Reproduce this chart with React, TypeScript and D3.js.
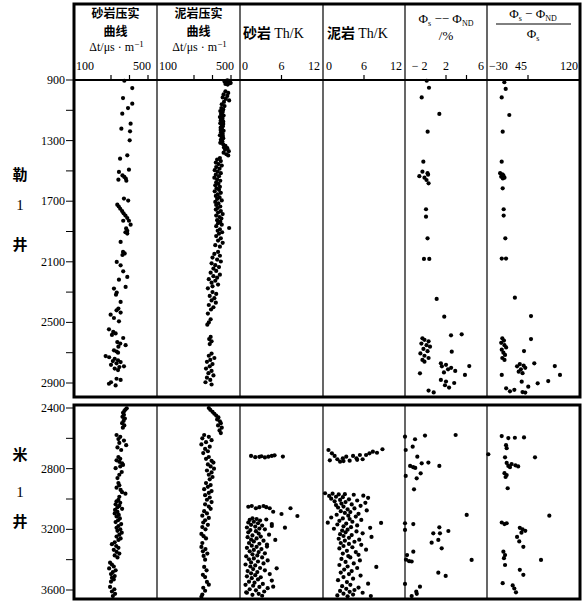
import React from "react";
import * as d3 from "d3";

// ---------- data: [depth (m), value] ----------
const le1SandDt: [number, number][] = [
  [905,372],[953,415],[1019,365],[1056,415],[1085,392],[1122,361],[1188,406],[1221,356],[1239,403],[1298,401],
  [1397,388],[1419,349],[1492,397],[1507,343],[1530,362],[1540,372],[1550,380],[1558,340],[1565,383],[1683,370],
  [1696,393],[1723,334],[1735,342],[1750,350],[1765,360],[1780,368],[1795,378],[1811,388],[1829,397],[1829,366],
  [1855,406],[1880,382],[1895,388],[1905,378],[1914,388],[1969,352],[2035,365],[2045,374],[2055,362],[2101,331],
  [2123,352],[2163,366],[2200,388],[2218,343],[2266,379],[2277,316],[2303,331],[2317,327],[2365,352],[2409,340],
  [2420,330],[2435,352],[2449,298],[2471,316],[2493,343],[2546,289],[2563,312],[2573,325],[2583,305],[2603,366],
  [2630,334],[2640,350],[2650,379],[2660,340],[2684,316],[2692,330],[2700,338],[2722,271],[2730,290],[2740,320],
  [2750,338],[2755,310],[2762,352],[2770,330],[2780,300],[2790,370],[2795,345],[2805,320],[2815,338],[2872,330],
  [2880,352],[2895,300],[2905,289],[2916,325]
];

const le1MudDt: [number, number][] = [
  [902,480],[905,490],[908,472],[912,485],[915,495],[918,476],[922,488],[926,470],[930,482],[910,465],[920,498],
  [975,470],[985,485],[995,460],[1005,480],[1015,455],[1025,472],[1035,490],[1045,462],[1060,450],[1072,465],
  [1085,448],[1095,458],[1105,442],[1115,452],[1125,446],[1135,460],[1145,440],[1155,454],[1165,445],[1175,458],
  [1185,442],[1195,450],[1205,456],[1215,444],[1225,452],[1235,460],[1245,446],[1255,455],[1265,440],[1275,450],
  [1285,458],[1295,445],[1305,453],[1315,442],[1325,458],[1110,455],[1150,448],[1190,458],[1230,444],[1270,456],[1310,448],
  [1335,470],[1345,462],[1350,480],[1360,468],[1370,488],[1380,460],[1390,475],[1398,485],
  [1415,440],[1425,425],[1435,445],[1445,418],[1455,432],[1465,450],[1475,420],[1485,438],[1495,412],[1505,428],
  [1515,445],[1525,418],[1535,435],[1545,410],[1555,425],[1565,442],[1575,420],[1585,432],[1595,415],[1605,440],
  [1615,422],[1625,435],[1635,412],[1645,445],[1655,428],[1665,418],[1675,438],[1685,425],[1695,450],[1705,415],
  [1715,432],[1725,420],[1735,442],[1745,428],[1755,418],[1765,445],[1775,430],[1785,455],[1795,420],[1805,438],
  [1815,448],[1825,425],[1835,442],[1845,430],[1855,450],[1865,420],[1877,490],[1885,440],[1895,428],[1905,452],
  [1915,435],[1930,420],[1945,445],[1960,430],[1975,455],[1990,415],[2000,440],
  [2035,430],[2048,410],[2060,440],[2072,400],[2085,425],[2098,445],[2110,395],[2122,415],[2135,435],[2145,405],
  [2160,420],[2172,390],[2185,440],[2195,405],[2205,425],[2215,380],[2225,415],[2238,395],[2250,430],[2262,400],
  [2275,375],[2300,400],[2312,420],[2325,385],[2340,410],[2355,395],[2370,418],[2385,380],[2400,405],[2415,392],
  [2442,375],[2480,390],[2500,380],[2515,372],[2596,390],[2610,382],[2625,395],[2643,385],
  [2706,395],[2720,380],[2735,410],[2748,388],[2760,370],[2775,400],[2790,385],[2805,365],[2820,395],[2835,378],
  [2850,405],[2865,370],[2880,388],[2895,362],[2910,395]
];

const le1PhiDiff: [number, number][] = [
  [905,0.12],[951,0.34],[1015,-0.37],[1124,1.35],[1241,0.21],[1439,-0.21],[1505,-0.3],[1515,0.2],[1525,0.25],
  [1535,-0.6],[1545,-0.1],[1560,0.1],[1582,0.3],[1753,0.05],[1802,0.05],[1945,0.2],[2081,-0.15],[2081,0.37],
  [2345,1.09],[2462,1.83],[2579,3.53],[2585,2.49],[2605,-0.3],[2615,-0.1],[2625,0.3],[2640,-0.4],[2650,0.1],
  [2660,0.44],[2675,-0.2],[2690,0.2],[2693,2.56],[2705,-0.5],[2720,-0.1],[2735,0.3],[2748,-0.3],[2759,-0.1],
  [2770,1.5],[2780,2.0],[2790,1.6],[2800,2.5],[2788,4.27],[2810,2.2],[2820,2.9],[2830,1.8],[2836,-0.54],
  [2847,3.85],[2880,1.5],[2890,2.0],[2900,2.8],[2915,1.9],[2930,2.3],[2950,0.3],[2962,0.8]
];

const le1PhiRatio: [number, number][] = [
  [915,1.7],[959,4.2],[1015,-3.1],[1131,10.8],[1241,-1.3],[1439,-3.1],[1515,-6],[1522,-2],[1530,0],[1538,-4],
  [1545,2],[1550,-1],[1615,-1.3],[1753,0.5],[1795,0.5],[1945,3.5],[2079,-3],[2079,4.8],[2337,21],[2458,50.5],
  [2605,-2],[2610,50.5],[2620,1],[2635,-4],[2650,2],[2665,5],[2680,-3],[2689,37.7],[2700,0],[2715,3],[2735,-2],
  [2748,2],[2770,56.5],[2775,30],[2785,37],[2788,94],[2790,25],[2800,40],[2810,32],[2825,28],[2835,35],
  [2847,-3],[2847,103.5],[2887,82],[2891,33.5],[2902,62.7],[2924,45.5],[2935,5],[2945,20],[2955,12],[2960,35],
  [2963,40]
];

const mi1SandDt: [number, number][] = [
  [2402,385],[2410,378],[2420,372],[2432,365],[2445,370],[2458,362],[2470,375],[2485,368],[2500,360],[2515,372],
  [2530,364],[2578,330],[2590,350],[2605,340],[2615,370],[2630,345],[2645,382],[2660,335],[2677,355],[2723,340],
  [2735,350],[2745,330],[2755,345],[2765,360],[2775,365],[2785,350],[2797,325],[2822,358],[2840,345],[2862,335],
  [2895,340],[2910,345],[2925,330],[2940,352],[2955,360],[2965,378],[2985,345],[3006,340],[3015,330],[3025,350],
  [3035,325],[3045,345],[3055,335],[3065,360],[3072,322],[3085,335],[3095,320],[3105,342],[3115,330],[3128,348],
  [3140,338],[3152,325],[3165,355],[3178,340],[3190,330],[3200,350],[3210,335],[3222,358],[3235,345],[3248,330],
  [3260,352],[3270,340],[3285,320],[3298,305],[3310,328],[3322,340],[3335,315],[3348,330],[3360,345],[3372,320],
  [3385,335],[3420,295],[3432,305],[3445,315],[3458,290],[3470,325],[3482,310],[3495,300],[3508,320],[3520,305],
  [3530,315],[3545,300],[3580,295],[3595,318],[3610,305],[3625,322],[3640,310]
];

const mi1MudDt: [number, number][] = [
  [2400,380],[2412,388],[2425,400],[2438,410],[2450,420],[2462,432],[2475,425],[2488,440],[2500,445],[2515,430],
  [2530,450],[2548,438],[2565,445],[2578,355],[2590,380],[2600,345],[2612,395],[2625,365],[2640,340],[2655,385],
  [2670,360],[2685,375],[2697,350],[2723,380],[2735,365],[2748,395],[2760,405],[2772,375],[2785,390],[2800,408],
  [2812,370],[2825,395],[2840,380],[2855,400],[2870,385],[2895,365],[2908,390],[2920,375],[2935,355],[2948,395],
  [2960,380],[2975,360],[2990,385],[3005,370],[3020,395],[3035,360],[3050,380],[3065,390],[3080,355],[3095,370],
  [3110,345],[3125,380],[3140,360],[3155,350],[3170,375],[3185,345],[3200,362],[3230,340],[3245,352],[3260,365],
  [3290,345],[3316,340],[3330,362],[3345,348],[3360,372],[3375,352],[3400,360],[3448,355],[3470,368],[3500,348],
  [3515,360],[3547,370],[3565,380],[3585,350],[3605,360],[3630,345],[3645,340]
];

const mi1SandThK: [number, number][] = [
  [2716,1.6],[2724,2.2],[2722,2.8],[2718,3.1],[2726,3.6],[2721,4.1],[2716,4.6],[2712,5.0],[2720,6.2],
  [3051,1.2],[3046,1.7],[3061,2.3],[3054,2.8],[3046,3.4],[3054,3.8],[3061,4.3],[3084,4.8],[3099,6.0],[3061,7.3],
  [3112,8.3],[3189,6.5],[3270,5.1],[3178,4.6],[3314,3.9],[3457,5.3],[3578,4.8],
  [3127,1.8],[3132,2.4],[3138,1.4],[3142,2.9],[3135,3.8],[3150,2.0],[3155,1.2],[3160,2.6],[3165,4.6],[3170,1.6],
  [3175,3.2],[3182,2.2],[3188,1.0],[3195,2.8],[3200,3.6],[3205,1.5],[3212,2.3],[3220,1.2],[3228,2.7],[3235,4.2],
  [3240,1.8],[3248,3.0],[3252,1.1],[3260,2.4],[3268,1.6],[3275,3.4],[3280,2.0],[3290,1.3],[3295,2.8],[3300,3.9],
  [3308,1.7],[3315,2.4],[3322,1.0],[3330,3.1],[3336,2.0],[3345,1.4],[3350,2.7],[3358,3.6],[3365,1.8],[3372,2.5],
  [3378,0.9],[3385,3.2],[3392,2.0],[3398,1.3],[3405,4.0],[3412,2.6],[3418,1.6],[3425,3.4],[3432,0.8],[3438,2.2],
  [3445,1.5],[3455,2.9],[3462,1.9],[3470,3.6],[3475,1.1],[3482,2.5],[3490,1.6],[3495,4.3],[3502,2.2],[3510,1.0],
  [3516,3.0],[3522,1.7],[3530,2.6],[3538,4.6],[3545,1.3],[3552,2.1],[3560,3.3],[3566,0.8],[3572,1.9],[3580,2.8],
  [3588,4.0],[3595,1.4],[3602,2.3],[3610,3.5],[3618,1.0],[3625,2.7],[3632,1.8],[3638,3.2],[3615,0.9]
];

const mi1MudThK: [number, number][] = [
  [2677,0.8],[2699,1.3],[2716,1.7],[2738,2.1],[2754,2.5],[2732,2.9],[2721,3.4],[2747,3.9],[2716,4.4],[2732,4.9],
  [2710,5.4],[2738,5.8],[2710,6.3],[2699,6.8],[2688,7.3],[2695,7.9],[2672,8.7],[2745,1.0],[2750,3.0],[2742,5.0],
  [2962,0.3],[2965,1.4],[2970,2.3],[2968,3.2],[2972,4.5],[2978,5.9],[2980,0.9],[2985,1.9],[2988,2.9],[2992,6.6],
  [2998,1.2],[3002,3.8],[3006,2.5],[3010,5.0],[3015,1.7],[3020,3.3],[3025,6.2],[3030,2.7],[3036,4.2],[3040,1.9],
  [3045,5.5],[3050,3.0],[3056,2.2],[3062,4.6],[3068,3.6],[3075,6.4],[3080,2.6],[3086,4.0],[3092,3.2],[3098,5.2],
  [3104,2.0],[3110,3.7],[3116,4.8],[3122,1.2],[3128,2.9],[3132,3.9],[3138,5.6],[3144,2.4],[3150,4.3],[3156,0.7],
  [3158,8.5],[3162,3.4],[3168,2.1],[3174,5.0],[3180,3.0],[3186,4.1],[3190,6.9],[3196,1.6],[3202,3.6],[3208,2.8],
  [3214,4.9],[3220,3.3],[3226,5.8],[3232,2.5],[3238,4.2],[3244,3.0],[3250,7.1],[3256,3.8],[3262,2.3],[3268,5.3],
  [3275,3.2],[3282,4.6],[3290,2.6],[3296,3.8],[3302,5.6],[3310,3.0],[3318,4.3],[3326,2.4],[3334,6.3],[3342,3.5],
  [3350,4.8],[3360,2.9],[3368,5.2],[3376,3.7],[3385,4.0],[3395,2.7],[3405,5.4],[3415,3.3],[3425,4.5],[3435,2.4],
  [3445,3.6],[3448,7.8],[3455,5.0],[3465,3.1],[3475,4.2],[3485,2.6],[3495,3.8],[3505,5.5],[3515,3.0],[3525,4.4],
  [3535,2.2],[3548,3.5],[3558,6.6],[3566,4.0],[3575,2.8],[3584,5.2],[3592,3.4],[3600,4.6],[3606,2.5],[3612,3.9],
  [3618,5.8],[3624,3.0],[3630,4.4],[3636,2.1],[3640,7.0],[3642,3.6]
];

const mi1PhiDiff: [number, number][] = [
  [2589,-2.0],[2606,-1.02],[2582,-0.05],[2578,2.94],[2655,-1.25],[2677,-1.93],[2721,-0.8],[2782,-1.5],[2790,-1.2],
  [2795,-1.0],[2765,-0.37],[2760,0.28],[2782,1.35],[2831,-0.47],[2848,-1.93],[2864,-0.86],[2936,-1.12],[3105,4.02],
  [3160,-2.0],[3165,-1.19],[3204,-2.0],[3187,1.35],[3211,2.23],[3226,0.76],[3226,1.41],[3270,1.25],[3288,0.6],
  [3325,1.58],[3347,-1.19],[3370,-1.8],[3400,-1.9],[3410,-1.6],[3412,-1.35],[3402,4.5],[3486,1.25],[3507,1.97],
  [3560,-2.0],[3578,-0.54],[3611,-0.9],[3625,-0.85],[3640,-1.35]
];

const mi1PhiRatio: [number, number][] = [
  [2585,-3.1],[2598,9],[2596,21],[2594,37.7],[2645,4.8],[2665,6],[2705,-27.6],[2725,3],[2725,57.8],[2762,6],
  [2770,15],[2778,22],[2785,27],[2790,12],[2782,9],[2830,2],[2842,6],[2855,4],[2929,7.8],[3110,84],[3155,-3],
  [3160,6],[3165,2],[3190,30],[3200,35],[3210,40],[3222,33],[3250,25],[3280,29],[3315,36.5],[3347,0],[3370,3],
  [3390,1],[3435,3],[3402,68.8],[3467,30],[3500,36.5],[3555,-1.3],[3570,17],[3590,20],[3615,23]
];

const topDepthTicks = [900, 1100, 1300, 1500, 1700, 1900, 2100, 2300, 2500, 2700, 2900];
const topDepthLabels = [900, 1300, 1700, 2100, 2500, 2900];
const botDepthTicks = [2400, 2600, 2800, 3000, 3200, 3400, 3600];
const botDepthLabels = [2400, 2800, 3200, 3600];

// ---------- layout ----------
const W = 586, H = 603;
const COLS = [74, 157, 240, 323, 405, 487, 580];
const TOP_Y0 = 4, AXIS_Y = 80, TOP_Y1 = 397, BOT_Y0 = 405, BOT_Y1 = 599;

const yTop = d3.scaleLinear().domain([900, 2900]).range([80, 383]);
const yBot = d3.scaleLinear().domain([2400, 3600]).range([408, 590]);

const dt1 = d3.scaleLinear().domain([100, 500]).range([COLS[0], COLS[0] + 74]);
const dt2 = d3.scaleLinear().domain([100, 500]).range([COLS[1], COLS[1] + 74]);
const thk1 = d3.scaleLinear().domain([0, 12]).range([COLS[2], COLS[3]]);
const thk2 = d3.scaleLinear().domain([0, 12]).range([COLS[3], COLS[4]]);
const pd = d3.scaleLinear().domain([-2, 6]).range([COLS[4], COLS[5]]);
const pr = d3.scaleLinear().domain([-30, 120]).range([COLS[5], 569]);

const SERIF = "'Liberation Serif', 'DejaVu Serif', serif";
const CJK = "'Noto Sans CJK SC', sans-serif";

function Dots({ data, x, y }: { data: [number, number][]; x: d3.ScaleLinear<number, number>; y: d3.ScaleLinear<number, number> }) {
  return (
    <g>
      {data.map(([d, v], i) => (
        <circle key={i} cx={x(v)} cy={y(d)} r={2.1} fill="#000" />
      ))}
    </g>
  );
}

export default function App() {
  const axisTicks = [
    dt1(300), dt1(400), dt1(500), dt2(300), dt2(400), dt2(500),
    thk1(6), thk2(6), pd(2), pd(4), pr(45),
  ];
  return (
    <svg width={W} height={H} style={{ position: "absolute", left: 0, top: 0, background: "#fff" }}>
      <rect x={0} y={0} width={W} height={H} fill="#fff" />
      {/* column dividers */}
      {COLS.slice(1, 6).map((x, i) => (
        <g key={i}>
          <line x1={x} x2={x} y1={TOP_Y0} y2={TOP_Y1} stroke="#000" strokeWidth={1.2} />
          <line x1={x} x2={x} y1={BOT_Y0} y2={BOT_Y1} stroke="#000" strokeWidth={1.2} />
        </g>
      ))}
      {/* panel borders */}
      <rect x={COLS[0]} y={TOP_Y0} width={COLS[6] - COLS[0]} height={TOP_Y1 - TOP_Y0} fill="none" stroke="#000" strokeWidth={3} />
      <rect x={COLS[0]} y={BOT_Y0} width={COLS[6] - COLS[0]} height={BOT_Y1 - BOT_Y0} fill="none" stroke="#000" strokeWidth={3} />
      {/* header axis line */}
      <line x1={COLS[0]} x2={COLS[6]} y1={AXIS_Y} y2={AXIS_Y} stroke="#000" strokeWidth={1.8} />
      {axisTicks.map((x, i) => (
        <line key={i} x1={x} x2={x} y1={AXIS_Y} y2={AXIS_Y - 5} stroke="#000" strokeWidth={1.2} />
      ))}

      {/* header texts */}
      <g fontFamily={CJK} fontWeight={700} fontSize={12} textAnchor="middle">
        <text x={(COLS[0] + COLS[1]) / 2} y={18}>砂岩压实</text>
        <text x={(COLS[0] + COLS[1]) / 2} y={36}>曲线</text>
        <text x={(COLS[1] + COLS[2]) / 2} y={18}>泥岩压实</text>
        <text x={(COLS[1] + COLS[2]) / 2} y={36}>曲线</text>
      </g>
      <g fontFamily={SERIF} fontSize={12} textAnchor="middle">
        <text x={(COLS[0] + COLS[1]) / 2 + 1} y={51}>Δt/μs · m<tspan dy={-4} fontSize={9}>−1</tspan></text>
        <text x={(COLS[1] + COLS[2]) / 2 + 1} y={51}>Δt/μs · m<tspan dy={-4} fontSize={9}>−1</tspan></text>
      </g>
      <g fontSize={14}>
        <text x={COLS[2] + 3} y={38}><tspan fontFamily={CJK} fontWeight={700}>砂岩 </tspan><tspan fontFamily={SERIF}>Th/K</tspan></text>
        <text x={COLS[3] + 4} y={38}><tspan fontFamily={CJK} fontWeight={700}>泥岩 </tspan><tspan fontFamily={SERIF}>Th/K</tspan></text>
      </g>
      <g fontFamily={SERIF} fontSize={13} textAnchor="middle">
        <text x={(COLS[4] + COLS[5]) / 2} y={23}>Φ<tspan dy={3} fontSize={8}>s</tspan><tspan dy={-3}> −− Φ</tspan><tspan dy={3} fontSize={8}>ND</tspan></text>
        <text x={(COLS[4] + COLS[5]) / 2} y={40}>/%</text>
        <text x={533} y={18}>Φ<tspan dy={3} fontSize={8}>s</tspan><tspan dy={-3}> − Φ</tspan><tspan dy={3} fontSize={8}>ND</tspan></text>
        <text x={533} y={38}>Φ<tspan dy={3} fontSize={8}>s</tspan></text>
      </g>
      <line x1={496} x2={571} y1={24} y2={24} stroke="#000" strokeWidth={1} />

      {/* header axis labels */}
      <g fontFamily={SERIF} fontSize={12}>
        <text x={COLS[0] + 2} y={70}>100</text>
        <text x={dt1(500) + 3} y={70} textAnchor="end">500</text>
        <text x={COLS[1] + 2} y={70}>100</text>
        <text x={dt2(500) + 3} y={70} textAnchor="end">500</text>
        <text x={COLS[2] + 2} y={70}>0</text>
        <text x={thk1(6)} y={70} textAnchor="middle">6</text>
        <text x={thk1(12) - 3} y={70} textAnchor="end">12</text>
        <text x={COLS[3] + 3} y={70}>0</text>
        <text x={thk2(6)} y={70} textAnchor="middle">6</text>
        <text x={thk2(12) - 3} y={70} textAnchor="end">12</text>
        <text x={pd(0) + 2} y={70} textAnchor="end">− 2</text>
        <text x={pd(2)} y={70} textAnchor="middle">2</text>
        <text x={pd(6) - 3} y={70} textAnchor="end">6</text>
        <text x={COLS[5] + 2} y={70}>−30</text>
        <text x={pr(45) - 7} y={70} textAnchor="middle">45</text>
        <text x={COLS[6] - 2} y={70} textAnchor="end">120</text>
      </g>

      {/* depth axes */}
      <g fontFamily={SERIF} fontSize={12} textAnchor="end">
        {topDepthTicks.map((d) => (
          <line key={"tt" + d} x1={COLS[0] - 8} x2={COLS[0]} y1={yTop(d)} y2={yTop(d)} stroke="#000" strokeWidth={1} />
        ))}
        {topDepthLabels.map((d) => (
          <text key={"tl" + d} x={COLS[0] - 9} y={yTop(d) + 4}>{d}</text>
        ))}
        {botDepthTicks.map((d) => (
          <line key={"bt" + d} x1={COLS[0] - 8} x2={COLS[0]} y1={yBot(d)} y2={yBot(d)} stroke="#000" strokeWidth={1} />
        ))}
        {botDepthLabels.map((d) => (
          <text key={"bl" + d} x={COLS[0] - 9} y={yBot(d) + 4}>{d}</text>
        ))}
      </g>

      {/* well names */}
      <g fontFamily={CJK} fontWeight={700} fontSize={15} textAnchor="middle">
        <text x={20} y={180}>勒</text>
        <text x={20} y={210} fontFamily={SERIF} fontWeight={400}>1</text>
        <text x={20} y={250}>井</text>
        <text x={20} y={460}>米</text>
        <text x={20} y={497} fontFamily={SERIF} fontWeight={400}>1</text>
        <text x={20} y={527}>井</text>
      </g>

      {/* data: 勒1井 */}
      <Dots data={le1SandDt} x={dt1} y={yTop} />
      <Dots data={le1MudDt} x={dt2} y={yTop} />
      <Dots data={le1PhiDiff} x={pd} y={yTop} />
      <Dots data={le1PhiRatio} x={pr} y={yTop} />
      {/* data: 米1井 */}
      <Dots data={mi1SandDt} x={dt1} y={yBot} />
      <Dots data={mi1MudDt} x={dt2} y={yBot} />
      <Dots data={mi1SandThK} x={thk1} y={yBot} />
      <Dots data={mi1MudThK} x={thk2} y={yBot} />
      <Dots data={mi1PhiDiff} x={pd} y={yBot} />
      <Dots data={mi1PhiRatio} x={pr} y={yBot} />
    </svg>
  );
}
